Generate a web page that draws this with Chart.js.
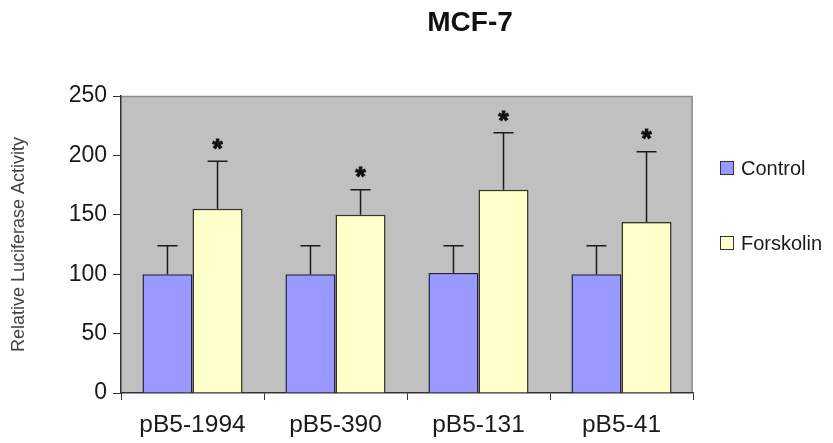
<!DOCTYPE html>
<html>
<head>
<meta charset="utf-8">
<script src="https://cdn.jsdelivr.net/npm/chart.js@4/dist/chart.umd.min.js"></script>
<style>
  html, body { margin: 0; padding: 0; background: #fff; }
  #wrap { width: 833px; height: 443px; position: relative; }
</style>
</head>
<body>
<div id="wrap"><canvas id="chart"></canvas></div>
<script>
const labels = ['pB5-1994', 'pB5-390', 'pB5-131', 'pB5-41'];
const controlValues = [100, 100, 101, 100];
const controlErrors = [24, 24, 23, 24];
const forskolinValues = [155, 150, 171, 144];
const forskolinErrors = [40, 21, 48, 59];
const starValues = [211, 188, 235, 220]; // where the * marks sit
const yTicks = [0, 50, 100, 150, 200, 250];

const errors = [controlErrors, forskolinErrors];
const FONT = '"Liberation Sans", Arial, sans-serif';

// grey plot background, like the old Excel charts
const plotBackground = {
  id: 'plotBackground',
  beforeDraw(chart) {
    const { ctx, chartArea: a } = chart;
    ctx.save();
    ctx.fillStyle = '#c0c0c0';
    ctx.fillRect(a.left, a.top, a.right - a.left, a.bottom - a.top);
    ctx.strokeStyle = '#8c8c8c';
    ctx.lineWidth = 1.5;
    ctx.beginPath();
    ctx.moveTo(a.left, a.top + 0.5);
    ctx.lineTo(a.right - 1, a.top + 0.5);
    ctx.lineTo(a.right - 1, a.bottom);
    ctx.stroke();
    ctx.restore();
  }
};

// upper error bars and significance stars
const errorBars = {
  id: 'errorBars',
  afterDatasetsDraw(chart) {
    const { ctx } = chart;
    const y = chart.scales.y;
    ctx.save();
    ctx.strokeStyle = '#1a1a1a';
    ctx.lineWidth = 1.5;
    chart.data.datasets.forEach((ds, di) => {
      const meta = chart.getDatasetMeta(di);
      meta.data.forEach((bar, i) => {
        const top = y.getPixelForValue(ds.data[i] + errors[di][i]);
        ctx.beginPath();
        ctx.moveTo(bar.x, bar.y);
        ctx.lineTo(bar.x, top);
        ctx.moveTo(bar.x - 10, top);
        ctx.lineTo(bar.x + 10, top);
        ctx.stroke();
      });
    });
    // stars above the forskolin bars
    const meta = chart.getDatasetMeta(1);
    ctx.fillStyle = '#111';
    ctx.strokeStyle = '#111';
    ctx.lineWidth = 1;
    ctx.font = 'bold 26px ' + FONT;
    ctx.textAlign = 'center';
    ctx.textBaseline = 'alphabetic';
    meta.data.forEach((bar, i) => {
      const py = y.getPixelForValue(starValues[i]);
      ctx.fillText('*', bar.x, py + 15);
      ctx.strokeText('*', bar.x, py + 15);
    });
    ctx.restore();
  }
};

// title and right-hand legend
const extras = {
  id: 'extras',
  afterDraw(chart) {
    const { ctx } = chart;
    ctx.save();
    ctx.fillStyle = '#111';
    ctx.font = 'bold 28px ' + FONT;
    ctx.textAlign = 'center';
    ctx.textBaseline = 'middle';
    ctx.fillText('MCF-7', 470, 23);

    const items = [
      { text: 'Control', color: '#9999ff', y: 168 },
      { text: 'Forskolin', color: '#ffffcc', y: 243 }
    ];
    ctx.font = '20px ' + FONT;
    ctx.textAlign = 'left';
    items.forEach(it => {
      ctx.fillStyle = it.color;
      ctx.fillRect(720.5, it.y - 6.5, 13, 13);
      ctx.strokeStyle = '#333';
      ctx.lineWidth = 1;
      ctx.strokeRect(720.5, it.y - 6.5, 13, 13);
      ctx.fillStyle = '#1a1a1a';
      ctx.fillText(it.text, 741, it.y + 1);
    });
    ctx.restore();
  }
};

new Chart(document.getElementById('chart'), {
  type: 'bar',
  data: {
    labels: labels,
    datasets: [
      {
        label: 'Control',
        data: controlValues,
        backgroundColor: '#9999ff',
        borderColor: '#222244',
        borderWidth: 1.5,
        categoryPercentage: 0.7,
        barPercentage: 1.0
      },
      {
        label: 'Forskolin',
        data: forskolinValues,
        backgroundColor: '#ffffcc',
        borderColor: '#333322',
        borderWidth: 1.5,
        categoryPercentage: 0.7,
        barPercentage: 1.0
      }
    ]
  },
  options: {
    responsive: true,
    maintainAspectRatio: false,
    animation: false,
    layout: { padding: { top: 96, right: 140, bottom: 0, left: 0 } },
    plugins: {
      legend: { display: false },
      tooltip: { enabled: false },
      title: { display: false }
    },
    scales: {
      x: {
        afterFit: s => { s.height = 50; },
        grid: {
          offset: true,
          drawOnChartArea: false,
          tickLength: 7,
          color: '#333',
          lineWidth: 1
        },
        border: { color: '#333', width: 1.5 },
        ticks: {
          color: '#1a1a1a',
          padding: 11,
          font: { family: FONT, size: 24.5 }
        }
      },
      y: {
        min: 0,
        max: 250,
        afterFit: s => { s.width = 121; },
        afterBuildTicks: s => { s.ticks = yTicks.map(v => ({ value: v })); },
        grid: {
          drawOnChartArea: false,
          tickLength: 8,
          color: '#333',
          lineWidth: 1
        },
        border: { color: '#333', width: 1.5 },
        ticks: {
          color: '#1a1a1a',
          padding: 6,
          font: { family: FONT, size: 23 }
        },
        title: {
          display: true,
          text: 'Relative Luciferase Activity',
          color: '#444',
          padding: { top: 8, bottom: 0 },
          font: { family: FONT, size: 18 }
        }
      }
    }
  },
  plugins: [plotBackground, errorBars, extras]
});
</script>
</body>
</html>
